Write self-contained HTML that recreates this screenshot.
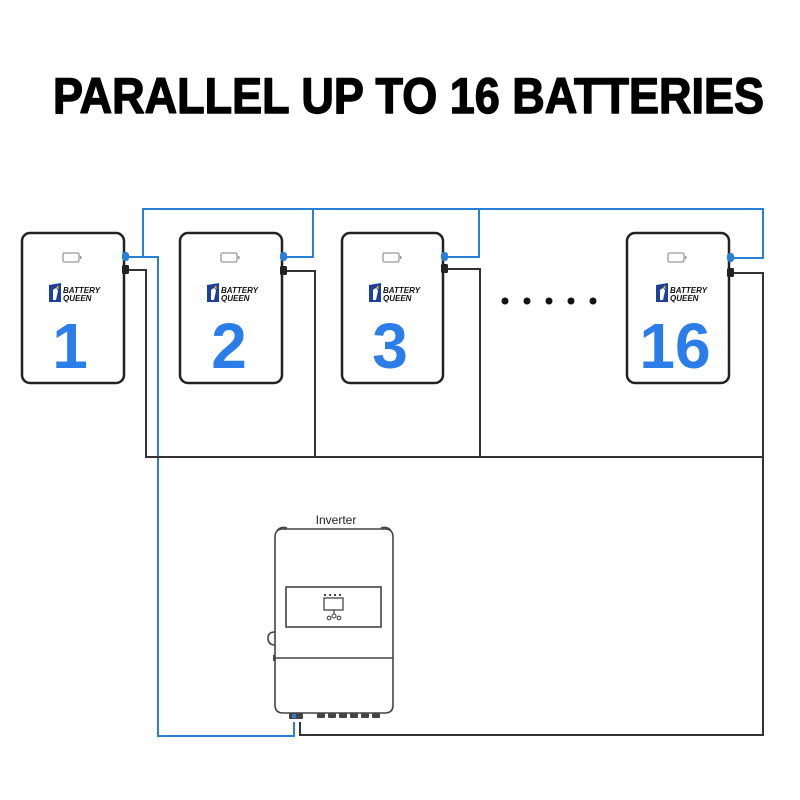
<!DOCTYPE html>
<html>
<head>
<meta charset="utf-8">
<style>
html,body{margin:0;padding:0;background:#fff;}
svg{display:block;}
</style>
</head>
<body>
<svg width="800" height="800" viewBox="0 0 800 800" xmlns="http://www.w3.org/2000/svg">
<rect width="800" height="800" fill="#fff"/>
<text x="53" y="113" font-family="Liberation Sans, Arial, sans-serif" font-weight="bold" font-size="50" fill="#000" stroke="#000" stroke-width="1.4" stroke-linejoin="round" textLength="711" lengthAdjust="spacingAndGlyphs">PARALLEL UP TO 16 BATTERIES</text>

<!-- blue wires -->
<g fill="none" stroke="#2a7fd6" stroke-width="2">
  <polyline points="143,257 143,209 763,209 763,258 733,258"/>
  <polyline points="128,257 158,257 158,736 294,736 294,722"/>
  <polyline points="286,257 313,257 313,209"/>
  <polyline points="447,257 479,257 479,209"/>
</g>
<!-- black wires -->
<g fill="none" stroke="#333" stroke-width="2">
  <polyline points="128,270 146,270 146,457 762,457"/>
  <polyline points="286,271 315,271 315,457"/>
  <polyline points="447,269 480,269 480,457"/>
  <polyline points="733,273 763,273 763,735 300,735 300,722"/>
</g>

<g font-family="Liberation Sans, Arial, sans-serif">
  <!-- battery 1 -->
  <rect x="22" y="233" width="102" height="150" rx="8" fill="#fff" stroke="#222" stroke-width="2.5"/>
  <rect x="63" y="253" width="16" height="9" rx="1.5" fill="none" stroke="#999" stroke-width="1.3"/>
  <rect x="80" y="256" width="1.5" height="3" fill="#999"/>
  <path d="M49,285 L61,283 L61,302 L49,302 Z" fill="#1d3fa0"/>
  <path d="M53,290 Q57,286 58,291 L56,300 L53,300 Z" fill="#fff"/>
  <path d="M56,288 L58,285 L59,289 Z" fill="#f2a21b"/>
  <text x="63" y="293" font-size="8" font-weight="bold" font-style="italic" fill="#111">BATTERY</text>
  <text x="63" y="301" font-size="8" font-weight="bold" font-style="italic" fill="#111">QUEEN</text>
  <text x="70" y="368" font-size="64" font-weight="bold" fill="#2b7de9" text-anchor="middle">1</text>
  <rect x="122" y="252" width="7" height="9" rx="3" fill="#2a7fd6"/>
  <rect x="122" y="265" width="7" height="9" rx="1.5" fill="#222"/>

  <!-- battery 2 -->
  <rect x="180" y="233" width="102" height="150" rx="8" fill="#fff" stroke="#222" stroke-width="2.5"/>
  <rect x="221" y="253" width="16" height="9" rx="1.5" fill="none" stroke="#999" stroke-width="1.3"/>
  <rect x="238" y="256" width="1.5" height="3" fill="#999"/>
  <path d="M207,285 L219,283 L219,302 L207,302 Z" fill="#1d3fa0"/>
  <path d="M211,290 Q215,286 216,291 L214,300 L211,300 Z" fill="#fff"/>
  <path d="M214,288 L216,285 L217,289 Z" fill="#f2a21b"/>
  <text x="221" y="293" font-size="8" font-weight="bold" font-style="italic" fill="#111">BATTERY</text>
  <text x="221" y="301" font-size="8" font-weight="bold" font-style="italic" fill="#111">QUEEN</text>
  <text x="229" y="368" font-size="64" font-weight="bold" fill="#2b7de9" text-anchor="middle">2</text>
  <rect x="280" y="252" width="7" height="9" rx="3" fill="#2a7fd6"/>
  <rect x="280" y="266" width="7" height="9" rx="1.5" fill="#222"/>

  <!-- battery 3 -->
  <rect x="342" y="233" width="101" height="150" rx="8" fill="#fff" stroke="#222" stroke-width="2.5"/>
  <rect x="383" y="253" width="16" height="9" rx="1.5" fill="none" stroke="#999" stroke-width="1.3"/>
  <rect x="400" y="256" width="1.5" height="3" fill="#999"/>
  <path d="M369,285 L381,283 L381,302 L369,302 Z" fill="#1d3fa0"/>
  <path d="M373,290 Q377,286 378,291 L376,300 L373,300 Z" fill="#fff"/>
  <path d="M376,288 L378,285 L379,289 Z" fill="#f2a21b"/>
  <text x="383" y="293" font-size="8" font-weight="bold" font-style="italic" fill="#111">BATTERY</text>
  <text x="383" y="301" font-size="8" font-weight="bold" font-style="italic" fill="#111">QUEEN</text>
  <text x="390" y="368" font-size="64" font-weight="bold" fill="#2b7de9" text-anchor="middle">3</text>
  <rect x="441" y="252" width="7" height="9" rx="3" fill="#2a7fd6"/>
  <rect x="441" y="264" width="7" height="9" rx="1.5" fill="#222"/>

  <!-- battery 16 -->
  <rect x="627" y="233" width="102" height="150" rx="8" fill="#fff" stroke="#222" stroke-width="2.5"/>
  <rect x="668" y="253" width="16" height="9" rx="1.5" fill="none" stroke="#999" stroke-width="1.3"/>
  <rect x="685" y="256" width="1.5" height="3" fill="#999"/>
  <path d="M656,285 L668,283 L668,302 L656,302 Z" fill="#1d3fa0"/>
  <path d="M660,290 Q664,286 665,291 L663,300 L660,300 Z" fill="#fff"/>
  <path d="M663,288 L665,285 L666,289 Z" fill="#f2a21b"/>
  <text x="670" y="293" font-size="8" font-weight="bold" font-style="italic" fill="#111">BATTERY</text>
  <text x="670" y="301" font-size="8" font-weight="bold" font-style="italic" fill="#111">QUEEN</text>
  <text x="675" y="368" font-size="64" font-weight="bold" fill="#2b7de9" text-anchor="middle">16</text>
  <rect x="727" y="253" width="7" height="9" rx="3" fill="#2a7fd6"/>
  <rect x="727" y="268" width="7" height="9" rx="1.5" fill="#222"/>
</g>

<!-- dots -->
<g fill="#111">
  <circle cx="505" cy="301" r="3.5"/>
  <circle cx="527" cy="301" r="3.5"/>
  <circle cx="549" cy="301" r="3.5"/>
  <circle cx="571" cy="301" r="3.5"/>
  <circle cx="593" cy="301" r="3.5"/>
</g>

<!-- inverter -->
<text x="336" y="524" font-family="Liberation Sans, Arial, sans-serif" font-size="12" fill="#222" text-anchor="middle">Inverter</text>
<g fill="none" stroke="#444" stroke-width="1.6">
  <path d="M283,529 L385,529 Q393,529 393,537 L393,705 Q393,713 385,713 L283,713 Q275,713 275,705 L275,537 Q275,529 283,529 Z" fill="#fff"/>
  <path d="M277,531 Q280,526 287,528"/>
  <path d="M381,528 Q388,526 391,531"/>
  <rect x="286" y="587" width="95" height="40"/>
  <line x1="275" y1="658" x2="393" y2="658"/>
  <path d="M275,632 Q268,632 268,638 Q268,645 275,645"/>
  <rect x="324" y="598" width="19" height="12" stroke-width="1.3"/>
  <line x1="334" y1="610" x2="334" y2="614" stroke-width="1.2"/>
  <circle cx="334" cy="616" r="2" stroke-width="1.1"/>
  <circle cx="329" cy="618" r="1.8" stroke-width="1.1"/>
  <circle cx="339" cy="618" r="1.8" stroke-width="1.1"/>
</g>
<g fill="#444">
  <rect x="324" y="594" width="2" height="2"/>
  <rect x="329" y="594" width="2" height="2"/>
  <rect x="334" y="594" width="2" height="2"/>
  <rect x="339" y="594" width="2" height="2"/>
  <rect x="273" y="655" width="2" height="6"/>
  <rect x="289" y="713" width="14" height="6" rx="1"/>
  <rect x="317" y="713" width="8" height="5" rx="1"/>
  <rect x="328" y="713" width="8" height="5" rx="1"/>
  <rect x="339" y="713" width="8" height="5" rx="1"/>
  <rect x="350" y="713" width="8" height="5" rx="1"/>
  <rect x="361" y="713" width="8" height="5" rx="1"/>
  <rect x="372" y="713" width="8" height="5" rx="1"/>
</g>
<rect x="292" y="714" width="4" height="4" fill="#2a7fd6"/>
</svg>
</body>
</html>
